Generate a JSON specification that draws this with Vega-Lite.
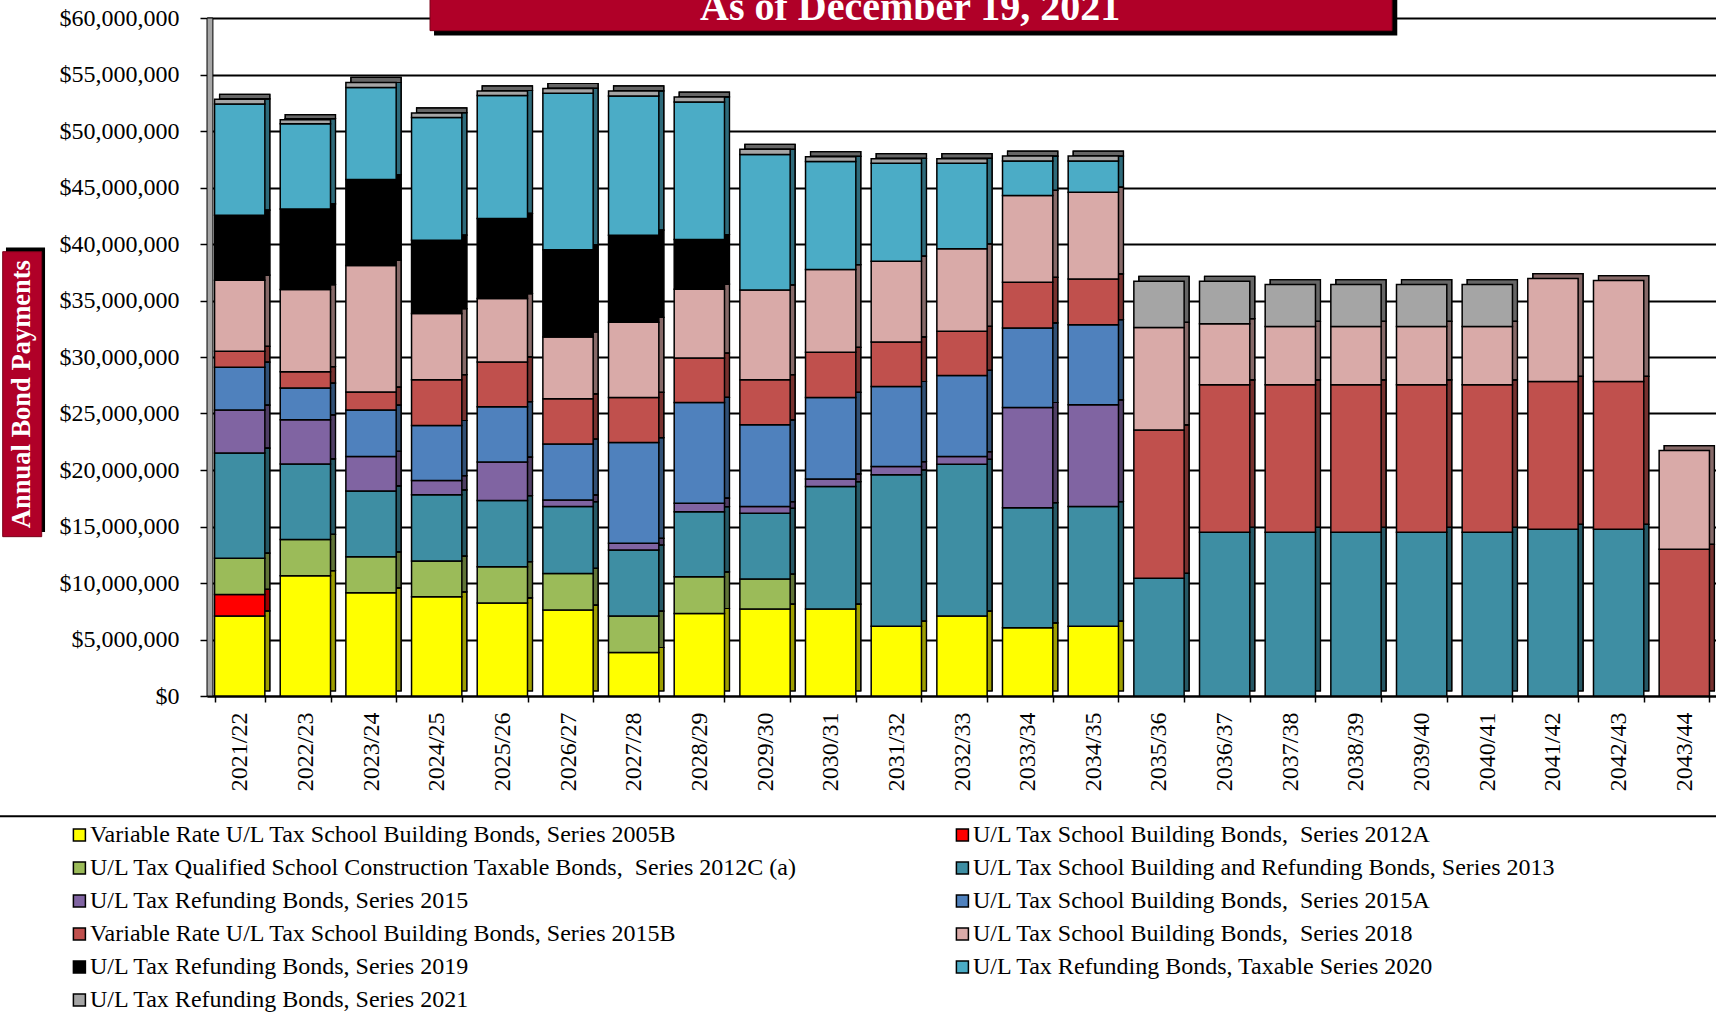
{
  "$schema": "https://vega.github.io/schema/vega-lite/v6.json",
  "width": 1510,
  "height": 678,
  "autosize": "none",
  "padding": {"left": 207, "top": 18, "right": 0, "bottom": 317},
  "background": "white",
  "datasets": {
    "series": [
      {"code": "2005B", "name": "Variable Rate U/L Tax School Building Bonds, Series 2005B"},
      {"code": "2012A", "name": "U/L Tax School Building Bonds,\u00a0 Series 2012A"},
      {"code": "2012C", "name": "U/L Tax Qualified School Construction Taxable Bonds,\u00a0 Series 2012C (a)"},
      {"code": "2013", "name": "U/L Tax School Building and Refunding Bonds, Series 2013"},
      {"code": "2015", "name": "U/L Tax Refunding Bonds, Series 2015"},
      {"code": "2015A", "name": "U/L Tax School Building Bonds,\u00a0 Series 2015A"},
      {"code": "2015B", "name": "Variable Rate U/L Tax School Building Bonds, Series 2015B"},
      {"code": "2018", "name": "U/L Tax School Building Bonds,\u00a0 Series 2018"},
      {"code": "2019", "name": "U/L Tax Refunding Bonds, Series 2019"},
      {"code": "2020", "name": "U/L Tax Refunding Bonds, Taxable Series 2020"},
      {"code": "2021", "name": "U/L Tax Refunding Bonds, Series 2021"}
    ],
    "payments": [
      {"year": "2021/22", "code": "2005B", "amount": 7090000},
      {"year": "2021/22", "code": "2012A", "amount": 1900000},
      {"year": "2021/22", "code": "2012C", "amount": 3210000},
      {"year": "2021/22", "code": "2013", "amount": 9300000},
      {"year": "2021/22", "code": "2015", "amount": 3800000},
      {"year": "2021/22", "code": "2015A", "amount": 3800000},
      {"year": "2021/22", "code": "2015B", "amount": 1400000},
      {"year": "2021/22", "code": "2018", "amount": 6300000},
      {"year": "2021/22", "code": "2019", "amount": 5750000},
      {"year": "2021/22", "code": "2020", "amount": 9850000},
      {"year": "2021/22", "code": "2021", "amount": 400000},

      {"year": "2022/23", "code": "2005B", "amount": 10640000},
      {"year": "2022/23", "code": "2012C", "amount": 3220000},
      {"year": "2022/23", "code": "2013", "amount": 6680000},
      {"year": "2022/23", "code": "2015", "amount": 3900000},
      {"year": "2022/23", "code": "2015A", "amount": 2810000},
      {"year": "2022/23", "code": "2015B", "amount": 1450000},
      {"year": "2022/23", "code": "2018", "amount": 7270000},
      {"year": "2022/23", "code": "2019", "amount": 7130000},
      {"year": "2022/23", "code": "2020", "amount": 7550000},
      {"year": "2022/23", "code": "2021", "amount": 350000},

      {"year": "2023/24", "code": "2005B", "amount": 9130000},
      {"year": "2023/24", "code": "2012C", "amount": 3190000},
      {"year": "2023/24", "code": "2013", "amount": 5830000},
      {"year": "2023/24", "code": "2015", "amount": 3050000},
      {"year": "2023/24", "code": "2015A", "amount": 4100000},
      {"year": "2023/24", "code": "2015B", "amount": 1600000},
      {"year": "2023/24", "code": "2018", "amount": 11200000},
      {"year": "2023/24", "code": "2019", "amount": 7600000},
      {"year": "2023/24", "code": "2020", "amount": 8150000},
      {"year": "2023/24", "code": "2021", "amount": 450000},

      {"year": "2024/25", "code": "2005B", "amount": 8780000},
      {"year": "2024/25", "code": "2012C", "amount": 3160000},
      {"year": "2024/25", "code": "2013", "amount": 5860000},
      {"year": "2024/25", "code": "2015", "amount": 1260000},
      {"year": "2024/25", "code": "2015A", "amount": 4880000},
      {"year": "2024/25", "code": "2015B", "amount": 4050000},
      {"year": "2024/25", "code": "2018", "amount": 5850000},
      {"year": "2024/25", "code": "2019", "amount": 6500000},
      {"year": "2024/25", "code": "2020", "amount": 10850000},
      {"year": "2024/25", "code": "2021", "amount": 410000},

      {"year": "2025/26", "code": "2005B", "amount": 8240000},
      {"year": "2025/26", "code": "2012C", "amount": 3200000},
      {"year": "2025/26", "code": "2013", "amount": 5850000},
      {"year": "2025/26", "code": "2015", "amount": 3410000},
      {"year": "2025/26", "code": "2015A", "amount": 4900000},
      {"year": "2025/26", "code": "2015B", "amount": 3960000},
      {"year": "2025/26", "code": "2018", "amount": 5610000},
      {"year": "2025/26", "code": "2019", "amount": 7090000},
      {"year": "2025/26", "code": "2020", "amount": 10880000},
      {"year": "2025/26", "code": "2021", "amount": 410000},

      {"year": "2026/27", "code": "2005B", "amount": 7600000},
      {"year": "2026/27", "code": "2012C", "amount": 3250000},
      {"year": "2026/27", "code": "2013", "amount": 5910000},
      {"year": "2026/27", "code": "2015", "amount": 590000},
      {"year": "2026/27", "code": "2015A", "amount": 4950000},
      {"year": "2026/27", "code": "2015B", "amount": 4000000},
      {"year": "2026/27", "code": "2018", "amount": 5470000},
      {"year": "2026/27", "code": "2019", "amount": 7730000},
      {"year": "2026/27", "code": "2020", "amount": 13840000},
      {"year": "2026/27", "code": "2021", "amount": 420000},

      {"year": "2027/28", "code": "2005B", "amount": 3850000},
      {"year": "2027/28", "code": "2012C", "amount": 3220000},
      {"year": "2027/28", "code": "2013", "amount": 5850000},
      {"year": "2027/28", "code": "2015", "amount": 590000},
      {"year": "2027/28", "code": "2015A", "amount": 8920000},
      {"year": "2027/28", "code": "2015B", "amount": 3990000},
      {"year": "2027/28", "code": "2018", "amount": 6650000},
      {"year": "2027/28", "code": "2019", "amount": 7710000},
      {"year": "2027/28", "code": "2020", "amount": 12320000},
      {"year": "2027/28", "code": "2021", "amount": 450000},

      {"year": "2028/29", "code": "2005B", "amount": 7300000},
      {"year": "2028/29", "code": "2012C", "amount": 3250000},
      {"year": "2028/29", "code": "2013", "amount": 5760000},
      {"year": "2028/29", "code": "2015", "amount": 750000},
      {"year": "2028/29", "code": "2015A", "amount": 8920000},
      {"year": "2028/29", "code": "2015B", "amount": 3930000},
      {"year": "2028/29", "code": "2018", "amount": 6090000},
      {"year": "2028/29", "code": "2019", "amount": 4400000},
      {"year": "2028/29", "code": "2020", "amount": 12170000},
      {"year": "2028/29", "code": "2021", "amount": 430000},

      {"year": "2029/30", "code": "2005B", "amount": 7690000},
      {"year": "2029/30", "code": "2012C", "amount": 2660000},
      {"year": "2029/30", "code": "2013", "amount": 5820000},
      {"year": "2029/30", "code": "2015", "amount": 590000},
      {"year": "2029/30", "code": "2015A", "amount": 7240000},
      {"year": "2029/30", "code": "2015B", "amount": 3990000},
      {"year": "2029/30", "code": "2018", "amount": 7950000},
      {"year": "2029/30", "code": "2020", "amount": 11990000},
      {"year": "2029/30", "code": "2021", "amount": 450000},

      {"year": "2030/31", "code": "2005B", "amount": 7690000},
      {"year": "2030/31", "code": "2013", "amount": 10840000},
      {"year": "2030/31", "code": "2015", "amount": 680000},
      {"year": "2030/31", "code": "2015A", "amount": 7210000},
      {"year": "2030/31", "code": "2015B", "amount": 3990000},
      {"year": "2030/31", "code": "2018", "amount": 7330000},
      {"year": "2030/31", "code": "2020", "amount": 9570000},
      {"year": "2030/31", "code": "2021", "amount": 420000},

      {"year": "2031/32", "code": "2005B", "amount": 6180000},
      {"year": "2031/32", "code": "2013", "amount": 13390000},
      {"year": "2031/32", "code": "2015", "amount": 730000},
      {"year": "2031/32", "code": "2015A", "amount": 7090000},
      {"year": "2031/32", "code": "2015B", "amount": 3940000},
      {"year": "2031/32", "code": "2018", "amount": 7150000},
      {"year": "2031/32", "code": "2020", "amount": 8660000},
      {"year": "2031/32", "code": "2021", "amount": 410000},

      {"year": "2032/33", "code": "2005B", "amount": 7070000},
      {"year": "2032/33", "code": "2013", "amount": 13440000},
      {"year": "2032/33", "code": "2015", "amount": 680000},
      {"year": "2032/33", "code": "2015A", "amount": 7180000},
      {"year": "2032/33", "code": "2015B", "amount": 3900000},
      {"year": "2032/33", "code": "2018", "amount": 7300000},
      {"year": "2032/33", "code": "2020", "amount": 7570000},
      {"year": "2032/33", "code": "2021", "amount": 410000},

      {"year": "2033/34", "code": "2005B", "amount": 6030000},
      {"year": "2033/34", "code": "2013", "amount": 10640000},
      {"year": "2033/34", "code": "2015", "amount": 8860000},
      {"year": "2033/34", "code": "2015A", "amount": 7040000},
      {"year": "2033/34", "code": "2015B", "amount": 4040000},
      {"year": "2033/34", "code": "2018", "amount": 7690000},
      {"year": "2033/34", "code": "2020", "amount": 3040000},
      {"year": "2033/34", "code": "2021", "amount": 440000},

      {"year": "2034/35", "code": "2005B", "amount": 6180000},
      {"year": "2034/35", "code": "2013", "amount": 10580000},
      {"year": "2034/35", "code": "2015", "amount": 9010000},
      {"year": "2034/35", "code": "2015A", "amount": 7090000},
      {"year": "2034/35", "code": "2015B", "amount": 4050000},
      {"year": "2034/35", "code": "2018", "amount": 7680000},
      {"year": "2034/35", "code": "2020", "amount": 2750000},
      {"year": "2034/35", "code": "2021", "amount": 440000},

      {"year": "2035/36", "code": "2013", "amount": 10410000},
      {"year": "2035/36", "code": "2015B", "amount": 13140000},
      {"year": "2035/36", "code": "2018", "amount": 9070000},
      {"year": "2035/36", "code": "2021", "amount": 4080000},

      {"year": "2036/37", "code": "2013", "amount": 14490000},
      {"year": "2036/37", "code": "2015B", "amount": 13050000},
      {"year": "2036/37", "code": "2018", "amount": 5410000},
      {"year": "2036/37", "code": "2021", "amount": 3750000},

      {"year": "2037/38", "code": "2013", "amount": 14490000},
      {"year": "2037/38", "code": "2015B", "amount": 13050000},
      {"year": "2037/38", "code": "2018", "amount": 5170000},
      {"year": "2037/38", "code": "2021", "amount": 3700000},

      {"year": "2038/39", "code": "2013", "amount": 14490000},
      {"year": "2038/39", "code": "2015B", "amount": 13050000},
      {"year": "2038/39", "code": "2018", "amount": 5170000},
      {"year": "2038/39", "code": "2021", "amount": 3700000},

      {"year": "2039/40", "code": "2013", "amount": 14490000},
      {"year": "2039/40", "code": "2015B", "amount": 13050000},
      {"year": "2039/40", "code": "2018", "amount": 5170000},
      {"year": "2039/40", "code": "2021", "amount": 3700000},

      {"year": "2040/41", "code": "2013", "amount": 14490000},
      {"year": "2040/41", "code": "2015B", "amount": 13050000},
      {"year": "2040/41", "code": "2018", "amount": 5170000},
      {"year": "2040/41", "code": "2021", "amount": 3700000},

      {"year": "2041/42", "code": "2013", "amount": 14750000},
      {"year": "2041/42", "code": "2015B", "amount": 13090000},
      {"year": "2041/42", "code": "2018", "amount": 9100000},

      {"year": "2042/43", "code": "2013", "amount": 14750000},
      {"year": "2042/43", "code": "2015B", "amount": 13090000},
      {"year": "2042/43", "code": "2018", "amount": 8920000},

      {"year": "2043/44", "code": "2015B", "amount": 12980000},
      {"year": "2043/44", "code": "2018", "amount": 8740000}
    ]
  },
  "config": {
    "view": {"stroke": null},
    "font": "Liberation Serif",
    "axis": {
      "labelFont": "Liberation Serif",
      "labelFontSize": 24,
      "labelColor": "black",
      "tickColor": "black",
      "domainColor": "black",
      "title": null
    },
    "legend": {
      "labelFont": "Liberation Serif",
      "labelFontSize": 24,
      "labelColor": "black"
    }
  },
  "resolve": {"scale": {"x": "independent", "y": "independent"}},
  "layer": [
    {
      "data": {"name": "payments"},
      "transform": [
        {"lookup": "code", "from": {"data": {"name": "series"}, "key": "code", "fields": ["name"]}}
      ],
      "layer": [
        {
          "mark": {"type": "bar", "xOffset": 5, "yOffset": -5, "y2Offset": -5, "stroke": "black", "strokeWidth": 1.2},
          "encoding": {
            "x": {"field": "year", "type": "nominal"},
            "y": {"field": "amount", "type": "quantitative", "aggregate": "sum", "stack": "zero"},
            "color": {"field": "name", "type": "nominal"},
            "order": {"field": "code", "sort": "ascending"}
          }
        },
        {
          "mark": {"type": "bar", "xOffset": 5, "yOffset": -5, "y2Offset": -5, "fill": "black", "fillOpacity": 0.38, "stroke": "black", "strokeWidth": 1.2},
          "encoding": {
            "x": {"field": "year", "type": "nominal"},
            "y": {"field": "amount", "type": "quantitative", "aggregate": "sum", "stack": "zero"},
            "detail": {"field": "name", "type": "nominal"},
            "order": {"field": "code", "sort": "ascending"}
          }
        },
        {
          "mark": {"type": "bar", "stroke": "black", "strokeWidth": 1.5},
          "encoding": {
            "x": {
              "field": "year", "type": "nominal",
              "scale": {"paddingInner": 0.234, "paddingOuter": 0.115},
              "axis": {
                "labelAngle": -90,
                "labelFontSize": 24,
                "tickBand": "extent",
                "tickSize": 6,
                "tickWidth": 1.5,
                "labelPadding": 10,
                "domainWidth": 2,
                "grid": false,
                "title": null
              }
            },
            "y": {
              "field": "amount", "type": "quantitative", "aggregate": "sum", "stack": "zero",
              "scale": {"domain": [0, 60000000], "nice": false},
              "axis": {
                "values": [0, 5000000, 10000000, 15000000, 20000000, 25000000, 30000000, 35000000, 40000000, 45000000, 50000000, 55000000, 60000000],
                "format": "$,.0f",
                "labelFontSize": 24,
                "grid": true,
                "gridColor": "black",
                "gridWidth": 2,
                "tickSize": 7,
                "tickWidth": 1.5,
                "labelPadding": 21,
                "domain": false,
                "title": null
              }
            },
            "color": {
              "field": "name", "type": "nominal",
              "scale": {
                "domain": [
                  "Variable Rate U/L Tax School Building Bonds, Series 2005B",
                  "U/L Tax Qualified School Construction Taxable Bonds,\u00a0 Series 2012C (a)",
                  "U/L Tax Refunding Bonds, Series 2015",
                  "Variable Rate U/L Tax School Building Bonds, Series 2015B",
                  "U/L Tax Refunding Bonds, Series 2019",
                  "U/L Tax Refunding Bonds, Series 2021",
                  "U/L Tax School Building Bonds,\u00a0 Series 2012A",
                  "U/L Tax School Building and Refunding Bonds, Series 2013",
                  "U/L Tax School Building Bonds,\u00a0 Series 2015A",
                  "U/L Tax School Building Bonds,\u00a0 Series 2018",
                  "U/L Tax Refunding Bonds, Taxable Series 2020"
                ],
                "range": ["#FFFF00", "#9BBB59", "#8064A2", "#C0504D", "#000000", "#A5A5A5", "#FF0000", "#3E8EA3", "#4F81BD", "#D9AAA8", "#4BACC6"]
              },
              "legend": {
                "orient": "none",
                "legendX": -139.6,
                "legendY": 805,
                "columns": 2,
                "columnPadding": 152,
                "rowPadding": 9,
                "padding": 0,
                "title": null,
                "symbolType": "square",
                "symbolSize": 144,
                "symbolStrokeColor": "black",
                "symbolStrokeWidth": 1.5,
                "labelOffset": -1.5,
                "labelLimit": 1000,
                "labelFontSize": 24
              }
            },
            "order": {"field": "code", "sort": "ascending"}
          }
        }
      ]
    },
    {
      "data": {"values": [{}]},
      "layer": [
        {
          "mark": {"type": "rect", "fill": "#A6A6A6", "stroke": "black", "strokeWidth": 1},
          "encoding": {
            "x": {"datum": 0, "type": "quantitative", "scale": {"domain": [0, 23], "nice": false, "zero": false}, "axis": null},
            "x2": {"datum": 0.09},
            "y": {"datum": 0, "type": "quantitative", "scale": {"domain": [0, 60000000], "nice": false, "zero": false}, "axis": null},
            "y2": {"datum": 60000000}
          }
        },
        {
          "mark": {"type": "rect", "fill": "black"},
          "encoding": {
            "x": {"datum": 3.458, "type": "quantitative", "scale": {"domain": [0, 23], "nice": false, "zero": false}, "axis": null},
            "x2": {"datum": 18.13},
            "y": {"datum": 58.45e6, "type": "quantitative", "scale": {"domain": [0, 60000000], "nice": false, "zero": false}, "axis": null},
            "y2": {"datum": 62.5e6}
          }
        },
        {
          "mark": {"type": "rect", "fill": "#B00028", "stroke": "#7A0018", "strokeWidth": 1},
          "encoding": {
            "x": {"datum": 3.397, "type": "quantitative", "scale": {"domain": [0, 23], "nice": false, "zero": false}, "axis": null},
            "x2": {"datum": 18.05},
            "y": {"datum": 58.88e6, "type": "quantitative", "scale": {"domain": [0, 60000000], "nice": false, "zero": false}, "axis": null},
            "y2": {"datum": 62.5e6}
          }
        },
        {
          "mark": {"type": "text", "font": "Liberation Serif", "fontWeight": "bold", "fontSize": 40, "color": "white", "align": "center", "baseline": "alphabetic"},
          "encoding": {
            "x": {"datum": 10.71, "type": "quantitative", "scale": {"domain": [0, 23], "nice": false, "zero": false}, "axis": null},
            "y": {"datum": 59.82e6, "type": "quantitative", "scale": {"domain": [0, 60000000], "nice": false, "zero": false}, "axis": null},
            "text": {"value": "As of December 19, 2021"}
          }
        },
        {
          "mark": {"type": "rect", "fill": "black"},
          "encoding": {
            "x": {"datum": -3.062, "type": "quantitative", "scale": {"domain": [0, 23], "nice": false, "zero": false}, "axis": null},
            "x2": {"datum": -2.467},
            "y": {"datum": 14.52e6, "type": "quantitative", "scale": {"domain": [0, 60000000], "nice": false, "zero": false}, "axis": null},
            "y2": {"datum": 39.7e6}
          }
        },
        {
          "mark": {"type": "rect", "fill": "#B00028", "stroke": "#7A0018", "strokeWidth": 1},
          "encoding": {
            "x": {"datum": -3.112, "type": "quantitative", "scale": {"domain": [0, 23], "nice": false, "zero": false}, "axis": null},
            "x2": {"datum": -2.518},
            "y": {"datum": 14.1e6, "type": "quantitative", "scale": {"domain": [0, 60000000], "nice": false, "zero": false}, "axis": null},
            "y2": {"datum": 39.32e6}
          }
        },
        {
          "mark": {"type": "text", "font": "Liberation Serif", "fontWeight": "bold", "fontSize": 26.5, "color": "white", "align": "center", "baseline": "middle", "angle": 270},
          "encoding": {
            "x": {"datum": -2.815, "type": "quantitative", "scale": {"domain": [0, 23], "nice": false, "zero": false}, "axis": null},
            "y": {"datum": 26.71e6, "type": "quantitative", "scale": {"domain": [0, 60000000], "nice": false, "zero": false}, "axis": null},
            "text": {"value": "Annual Bond Payments"}
          }
        },
        {
          "mark": {"type": "rule", "color": "black", "strokeWidth": 2},
          "encoding": {
            "x": {"datum": -3.3, "type": "quantitative", "scale": {"domain": [0, 23], "nice": false, "zero": false}, "axis": null},
            "x2": {"datum": 23.3},
            "y": {"datum": -10.65e6, "type": "quantitative", "scale": {"domain": [0, 60000000], "nice": false, "zero": false}, "axis": null}
          }
        }
      ]
    }
  ]
}
